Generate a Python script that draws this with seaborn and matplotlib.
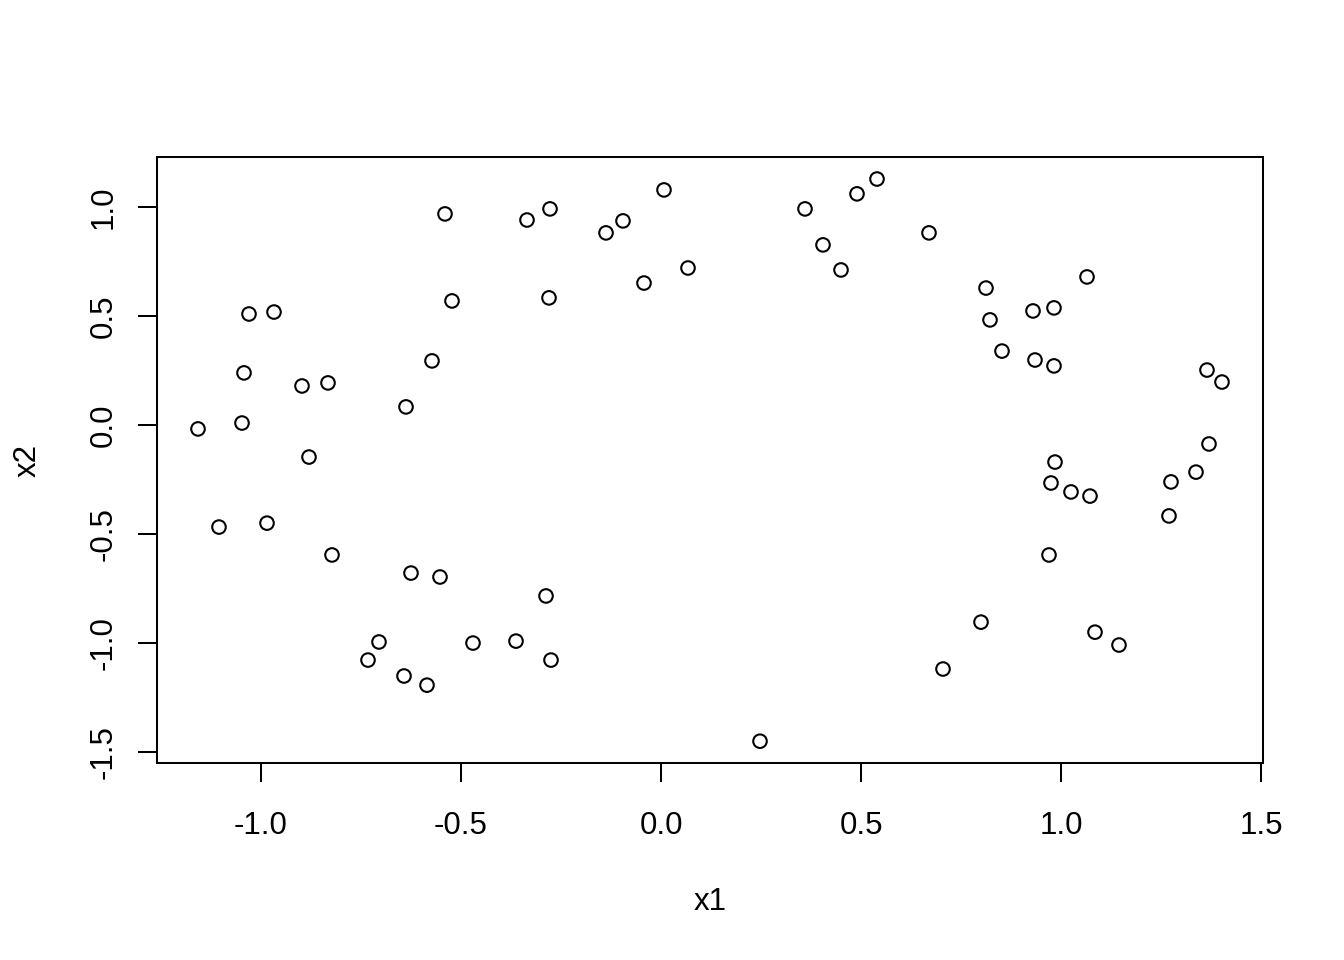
import matplotlib
matplotlib.use("Agg")
import matplotlib.pyplot as plt
import pandas as pd
import seaborn as sns

# point coordinates
x1 = [-1.1575, -1.105, -1.0475, -1.0425, -1.03, -0.985, -0.9675, -0.8975, -0.88,
      -0.8325, -0.8225, -0.7325, -0.705, -0.6425, -0.6375, -0.625, -0.585, -0.5725,
      -0.5525, -0.54, -0.5225, -0.47, -0.3625, -0.335, -0.2875, -0.28, -0.2775,
      -0.275, -0.1375, -0.095, -0.0425, 0.0075, 0.0675, 0.2475, 0.36, 0.405, 0.45,
      0.49, 0.54, 0.67, 0.705, 0.8, 0.8125, 0.8225, 0.8525, 0.93, 0.935, 0.97,
      0.975, 0.9825, 0.9825, 0.985, 1.025, 1.065, 1.0725, 1.085, 1.145, 1.27,
      1.275, 1.3375, 1.365, 1.37, 1.4025]
x2 = [-0.018, -0.468, 0.009, 0.239, 0.509, -0.450, 0.518, 0.179, -0.147,
      0.193, -0.596, -1.078, -0.995, -1.151, 0.083, -0.679, -1.193, 0.294,
      -0.697, 0.968, 0.569, -1.0, -0.991, 0.940, -0.784, 0.583, 0.991,
      -1.078, 0.881, 0.936, 0.651, 1.078, 0.720, -1.450, 0.991, 0.826, 0.711,
      1.060, 1.128, 0.881, -1.119, -0.904, 0.628, 0.482, 0.339, 0.523, 0.298, -0.596,
      -0.266, 0.537, 0.271, -0.170, -0.307, 0.679, -0.326, -0.950, -1.009, -0.417,
      -0.261, -0.216, 0.252, -0.087, 0.197]

x_ticks = [-1.0, -0.5, 0.0, 0.5, 1.0, 1.5]
y_ticks = [-1.5, -1.0, -0.5, 0.0, 0.5, 1.0]

df = pd.DataFrame({"x1": x1, "x2": x2})

sns.set_style("white")
plt.rcParams["font.family"] = ["Liberation Sans", "DejaVu Sans"]
plt.rcParams["text.color"] = "black"
plt.rcParams["xtick.color"] = "black"
plt.rcParams["ytick.color"] = "black"
plt.rcParams["axes.labelcolor"] = "black"

fig = plt.figure(figsize=(13.44, 9.6), dpi=100)
ax = fig.add_axes([157 / 1344, 1 - 763 / 960, 1106 / 1344, 606 / 960])

sns.scatterplot(data=df, x="x1", y="x2", ax=ax, marker="o", s=95,
                facecolor="none", edgecolor="black", linewidth=1.5)

ax.set_xlim(-1.26, 1.505)
ax.set_ylim(-1.55, 1.229)

ax.set_xticks(x_ticks)
ax.set_xticklabels([f"{v:.1f}" for v in x_ticks], fontsize=22.5)
ax.set_yticks(y_ticks)
ax.set_yticklabels([f"{v:.1f}" for v in y_ticks], fontsize=22.5, rotation=90, va="center")
ax.tick_params(axis="both", direction="out", length=13.7, width=1.45,
               color="black", bottom=True, left=True)
ax.tick_params(axis="x", pad=21)
ax.tick_params(axis="y", pad=14)

for sp in ax.spines.values():
    sp.set_visible(True)
    sp.set_color("black")
    sp.set_linewidth(1.45)

ax.set_xlabel("x1", fontsize=22.5, va="center")
ax.set_ylabel("x2", fontsize=22.5, va="center")
ax.xaxis.set_label_coords(0.5, (763 - 902) / 606)
ax.yaxis.set_label_coords((28 - 157) / 1106, 0.5)

fig.savefig("out.png", dpi=100, facecolor="white")
